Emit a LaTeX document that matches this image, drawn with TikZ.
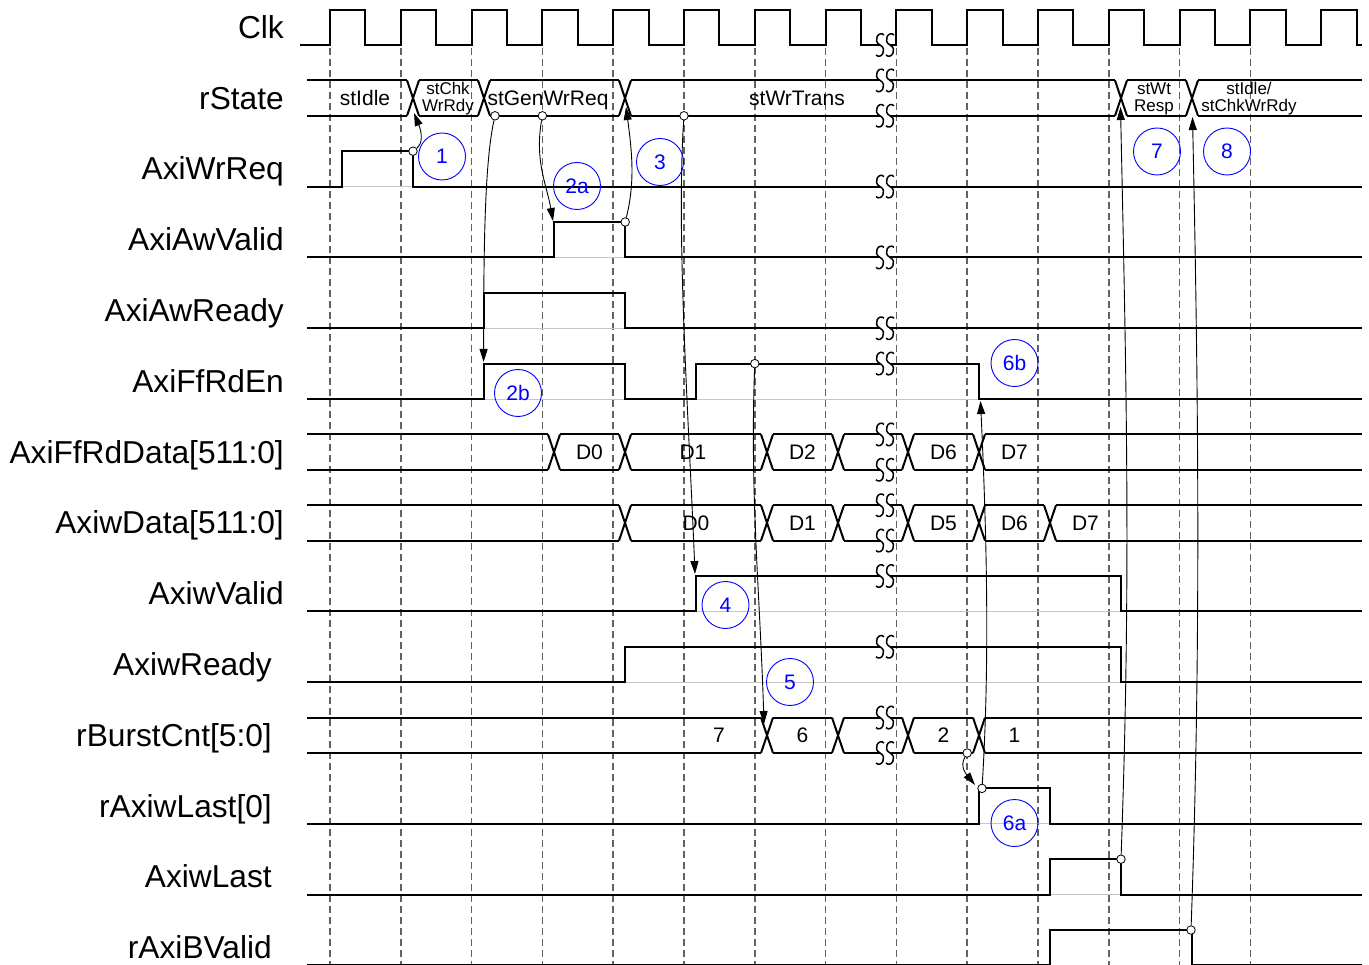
\documentclass[tikz,border=0pt]{standalone}
\usepackage{fontspec}
\setmainfont{Liberation Sans}
\usetikzlibrary{arrows.meta,calc}

% bus with crossings: top y, bottom y, list of crossing x
\newcommand{\busline}[3]{%
  \draw[sig] (307,#1) -- (1362,#1) (307,#2) -- (1362,#2);
  \foreach \c in {#3} {
    \fill[white] (\c-6,#1-2) rectangle (\c+6,#2+2);
    \draw[sig] (\c-6,#1) -- (\c+6,#2) (\c-6,#2) -- (\c+6,#1);
  }}
% time break mark on a line at height #1
\newcommand{\breakmark}[1]{%
  \fill[white] (880,#1-4) rectangle (890,#1+4);
  \foreach \s in {880,890}
    \draw[line width=1.5pt] (\s+4,#1-10) .. controls (\s-1,#1-15) and (\s-8,#1-4) .. (\s,#1)
      .. controls (\s+8,#1+4) and (\s+1,#1+15) .. (\s-4,#1+10);}

\begin{document}
\begin{tikzpicture}[x=1pt,y=-1pt,
  sig/.style={line width=2pt},
  base/.style={line width=0.8pt, black!22},
  grid/.style={line width=1.6pt, black!62, dash pattern=on 7pt off 4pt},
  lab/.style={anchor=east, inner sep=0pt, text height=22pt, text depth=0pt, font=\fontsize{31.7}{36}\selectfont},
  val/.style={inner sep=0pt, text height=15pt, text depth=0pt, font=\fontsize{21}{24}\selectfont},
  small/.style={inner sep=0pt, align=center, font=\fontsize{17}{17}\selectfont},
  num/.style={circle, draw=blue, text=blue, line width=0.9pt, minimum size=47pt, inner sep=0pt, font=\fontsize{21}{24}\selectfont},
  dot/.style={circle, draw, fill=white, line width=0.8pt, minimum size=8.5pt, inner sep=0pt},
  cause/.style={line width=0.9pt, -{Triangle[length=13pt,width=8pt]}}]
\useasboundingbox (0,0) rectangle (1369,965);

% clock edges
\foreach \k in {0,...,13}
  \draw[grid] ({330+70.8*\k},48) -- ({330+70.8*\k},965);

% signal names
\node[lab] (lclk) at (284,27.3) {Clk};
\node[lab] (lstate) at (284,98.1) {rState};
\node[lab] (lwrreq) at (284,168.9) {AxiWrReq};
\node[lab] (lawvalid) at (284,239.7) {AxiAwValid};
\node[lab] (lawready) at (284,310.5) {AxiAwReady};
\node[lab] (lrden) at (284,381.3) {AxiFfRdEn};
\node[lab] (lrddata) at (284,452.1) {AxiFfRdData[511:0]};
\node[lab] (lwdata) at (284,522.9) {AxiwData[511:0]};
\node[lab] (lwvalid) at (284,593.7) {AxiwValid};
\node[lab] (lwready) at (272,664.5) {AxiwReady};
\node[lab] (lcnt) at (272,735.3) {rBurstCnt[5:0]};
\node[lab] (lrlast) at (272,806.1) {rAxiwLast[0]};
\node[lab] (lwlast) at (272,876.9) {AxiwLast};
\node[lab] (lbvalid) at (272,947.7) {rAxiBValid};

% low levels
\foreach \y in {186.6,257.4,328.2,399,611.4,682.2,823.8,894.6,965}
  \draw[base] (307,\y) -- (1362,\y);

% Clk
\draw[sig] (300,45) \foreach \k in {0,...,14} { -- ({330+70.8*\k},45) -- ++(0,-35.4) -- ++(35.4,0) -- ++(0,35.4) } -- (1362,45);

% rState
\busline{80.4}{115.8}{413,484,625,1121,1192}
\node[val] (sidle) at (365,98) {stIdle};
\node[small] (schk) at (448,99) {stChk\\WrRdy};
\node[val] (sgen) at (548,98) {stGenWrReq};
\node[val] (strans) at (797,98) {stWrTrans};
\node[small] (swt) at (1154,99) {stWt\\Resp};
\node[small] (snext) at (1249,99) {stIdle/\\stChkWrRdy};

% single wires
\draw[sig] (307,186.6) -- (342,186.6) -- (342,151.2) -- (413,151.2) -- (413,186.6) -- (1362,186.6);
\draw[sig] (307,257.4) -- (554,257.4) -- (554,222) -- (625,222) -- (625,257.4) -- (1362,257.4);
\draw[sig] (307,328.2) -- (484,328.2) -- (484,292.8) -- (625,292.8) -- (625,328.2) -- (1362,328.2);
\draw[sig] (307,399) -- (484,399) -- (484,363.6) -- (625,363.6) -- (625,399) -- (696,399)
  -- (696,363.6) -- (979,363.6) -- (979,399) -- (1362,399);
\draw[sig] (307,611.4) -- (696,611.4) -- (696,576) -- (1121,576) -- (1121,611.4) -- (1362,611.4);
\draw[sig] (307,682.2) -- (625,682.2) -- (625,646.8) -- (1121,646.8) -- (1121,682.2) -- (1362,682.2);
\draw[sig] (307,823.8) -- (979,823.8) -- (979,788.4) -- (1050,788.4) -- (1050,823.8) -- (1362,823.8);
\draw[sig] (307,894.6) -- (1050,894.6) -- (1050,859.2) -- (1121,859.2) -- (1121,894.6) -- (1362,894.6);
\draw[sig] (307,965) -- (1050,965) -- (1050,930) -- (1192,930) -- (1192,965) -- (1362,965);

% buses
\busline{434.4}{469.8}{554,625,767,838,908,979}
\node[val] (rd0) at (589.5,452.1) {D0};
\node[val] (rd1) at (693,452.1) {D1};
\node[val] (rd2) at (802.5,452.1) {D2};
\node[val] (rd6) at (943.5,452.1) {D6};
\node[val] (rd7) at (1014.5,452.1) {D7};
\busline{505.2}{540.6}{625,767,838,908,979,1050}
\node[val] (wd0) at (696,522.9) {D0};
\node[val] (wd1) at (802.5,522.9) {D1};
\node[val] (wd5) at (943.5,522.9) {D5};
\node[val] (wd6) at (1014.5,522.9) {D6};
\node[val] (wd7) at (1085.5,522.9) {D7};
\busline{717.6}{753}{767,838,908,979}
\node[val] (n7) at (719,735.3) {7};
\node[val] (n6) at (802.5,735.3) {6};
\node[val] (n2) at (943.5,735.3) {2};
\node[val] (n1) at (1014.5,735.3) {1};

% time breaks
\foreach \y in {45,80.4,115.8,186.6,257.4,328.2,363.6,434.4,469.8,505.2,540.6,576,646.8,717.6,753}
  {\breakmark{\y}}

% causes
\node[dot] (d1) at (413,151.2) {};
\node[dot] (d2b) at (495,115.8) {};
\node[dot] (d2a) at (542.4,115.8) {};
\node[dot] (d3) at (625.2,222) {};
\node[dot] (d4) at (684,115.8) {};
\node[dot] (d5) at (754.8,363.6) {};
\node[dot] (d6a) at (967.2,753) {};
\node[dot] (d6b) at (982,788.4) {};
\node[dot] (d7) at (1121,859.2) {};
\node[dot] (d8) at (1191,930) {};
\coordinate (t1) at (414,113);
\coordinate (t2b) at (483.6,362);
\coordinate (t2a) at (553,221);
\coordinate (t3) at (626,107);
\coordinate (t4) at (695,574);
\coordinate (t5) at (764,724);
\coordinate (t6a) at (975,785);
\coordinate (t6b) at (980.5,401);
\coordinate (t7) at (1120.5,107);
\coordinate (t8) at (1192.5,117);
\draw[cause] (d1) .. controls ($(d1)+(10,-8)$) and ($(t1)+(8,20)$) .. (t1);
\draw[cause] (d2b) .. controls ($(d2b)+(-10,45)$) and ($(t2b)+(0,-120)$) .. (t2b);
\draw[cause] (d2a) .. controls ($(d2a)+(-8,45)$) and ($(t2a)+(-6,-35)$) .. (t2a);
\draw[cause] (d3) .. controls ($(d3)+(10,-40)$) and ($(t3)+(6,45)$) .. (t3);
\draw[cause] (d4) .. controls ($(d4)+(-8,120)$) and ($(t4)+(-6,-150)$) .. (t4);
\draw[cause] (d5) .. controls ($(d5)+(-5,130)$) and ($(t5)+(-4,-130)$) .. (t5);
\draw[cause] (d6a) .. controls ($(d6a)+(-8,14)$) and ($(t6a)+(-8,-10)$) .. (t6a);
\draw[cause] (d6b) .. controls ($(d6b)+(8,-130)$) and ($(t6b)+(6,130)$) .. (t6b);
\draw[cause] (d7) .. controls ($(d7)+(10,-280)$) and ($(t7)+(6,280)$) .. (t7);
\draw[cause] (d8) .. controls ($(d8)+(10,-280)$) and ($(t8)+(6,280)$) .. (t8);

% steps
\node[num] (c1) at (442,156.5) {1};
\node[num] (c2a) at (577,186) {2a};
\node[num] (c3) at (660,162) {3};
\node[num] (c2b) at (518,393) {2b};
\node[num] (c4) at (725.5,605) {4};
\node[num] (c5) at (790,682) {5};
\node[num] (c6b) at (1014.5,363) {6b};
\node[num] (c6a) at (1014.5,823) {6a};
\node[num] (c7) at (1157,151.5) {7};
\node[num] (c8) at (1227,151.5) {8};
\end{tikzpicture}
\end{document}
